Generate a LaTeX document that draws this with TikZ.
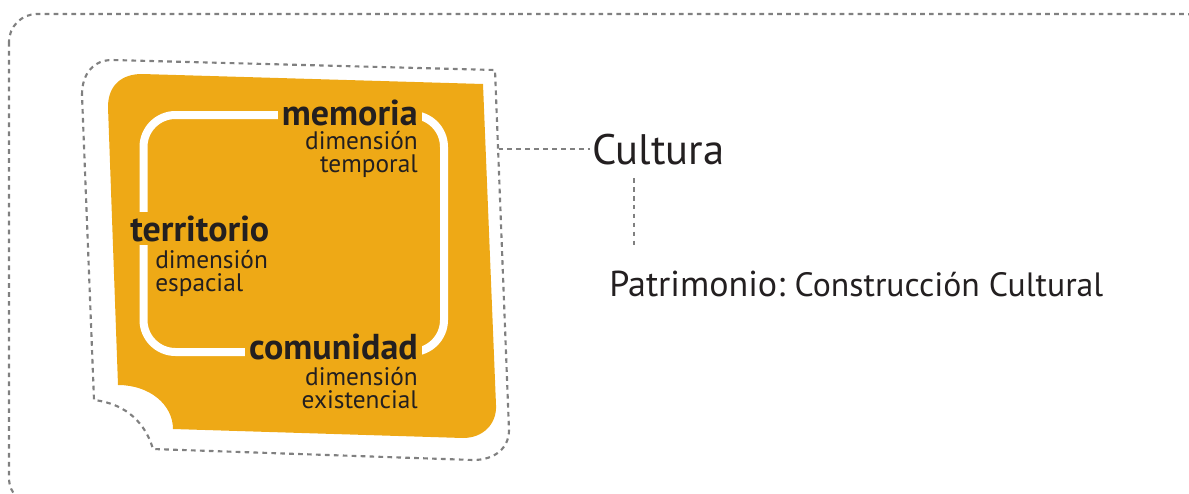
\documentclass[tikz,border=0pt]{standalone}
\usepackage{fontspec}
\setmainfont{PT Sans}
\definecolor{gold}{HTML}{EEA916}
\definecolor{dashgray}{HTML}{808080}
\definecolor{ink}{HTML}{231F20}
\tikzset{
  dashline/.style={draw=dashgray, line width=1.6pt, dash pattern=on 3.5pt off 3.2pt},
  boldword/.style={font=\fontsize{27}{27}\selectfont\bfseries, text=ink, fill=gold, inner xsep=3pt, inner ysep=0pt},
  subtext/.style={font=\fontsize{19}{17}\selectfont, text=ink, inner sep=0pt, align=right},
  subtextl/.style={font=\fontsize{19}{17}\selectfont, text=ink, inner sep=0pt, align=left},
  whiteframe/.style={draw=white, line width=6pt, rounded corners=24pt},
}
\begin{document}
\begin{tikzpicture}[x=0.75pt,y=-0.75pt]
\useasboundingbox (0,0) rectangle (1189,493);
% outer dashed frame
\draw[dashline, rounded corners=21pt] (9,14) rectangle (1213,506);
% inner dashed outline
\draw[dashline] (82,95) .. controls (82,72) and (95,60) .. (112,60) -- (495,70) -- (509,430)
  .. controls (509,448) and (495,460) .. (473,460) -- (153,449)
  .. controls (146,425) and (128,404) .. (94,400) -- cycle;
% orange shape
\fill[gold] (108,107) .. controls (108,85) and (122,74) .. (142,74) -- (483,84) -- (496,405)
  .. controls (497,424) and (483,438) .. (463,438) -- (173,429)
  .. controls (173,405) and (150,385) .. (118,385) -- cycle;
% white frame
\draw[whiteframe] (143.5,115) rectangle (444,352);
% words
\node[boldword, anchor=base east] (mem) at (422,125) {memoria};
\node[subtext, anchor=north east] (memsub) at (418,131) {dimensión\\temporal};
\node[boldword, inner ysep=2.5pt, anchor=base west] (ter) at (126,241) {territorio};
\node[subtextl, anchor=north west] (tersub) at (155,250) {dimensión\\espacial};
\node[boldword, anchor=base east] (com) at (422,359) {comunidad};
\node[subtext, anchor=north east] (comsub) at (418,367) {dimensión\\existencial};
% right side
\node[font=\fontsize{32}{32}\selectfont, text=ink, inner sep=0pt, anchor=base west] (cult) at (592,164) {Cultura};
\node[text=ink, inner sep=0pt, anchor=base west] (pat) at (609,296) {\fontsize{27}{26}\selectfont Patrimonio:\ \fontsize{25.3}{26}\selectfont Construcción Cultural};
\coordinate (oR) at (498.5,149);
\draw[dashline] (oR) -- ([xshift=-1.5pt]oR -| cult.west);
\coordinate (v1) at (634,178);
\coordinate (v2) at (634,248);
\draw[dashline] (v1) -- (v2);
\end{tikzpicture}
\end{document}
